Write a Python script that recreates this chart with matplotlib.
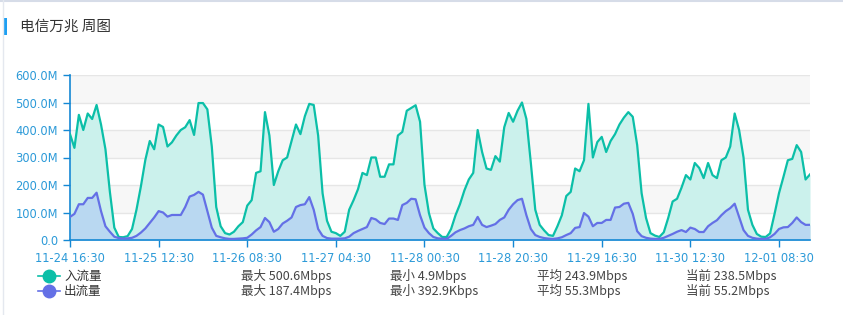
import matplotlib
matplotlib.use('Agg')
import matplotlib.pyplot as plt
import matplotlib.dates as mdates
from matplotlib.lines import Line2D
from matplotlib.patches import Rectangle
import pandas as pd

# 数据（每小时一个点，单位 Mbps）
start_time = '2023-11-24 16:30'
in_flow = [385, 335, 455, 400, 460, 440, 491, 420, 330, 175, 45, 11, 10, 14, 40, 110, 195, 291, 360, 330,
           420, 411, 340, 355, 380, 400, 410, 436, 382, 498, 498, 475, 340, 120, 50, 25, 20, 30, 50, 65,
           125, 145, 244, 250, 465, 380, 200, 250, 290, 300, 360, 420, 385, 450, 495, 491, 380, 170, 70, 30,
           25, 15, 30, 110, 145, 185, 244, 236, 300, 300, 230, 230, 275, 275, 380, 393, 470, 480, 490, 430,
           200, 98, 42, 25, 11, 11, 40, 90, 130, 180, 220, 244, 400, 320, 260, 255, 305, 285, 410, 462,
           430, 470, 500, 440, 280, 110, 55, 35, 18, 15, 50, 90, 160, 175, 260, 250, 290, 495, 300, 356,
           375, 320, 360, 385, 420, 445, 465, 448, 345, 170, 80, 25, 16, 11, 28, 80, 140, 150, 190, 236,
           220, 280, 262, 225, 280, 236, 225, 290, 300, 340, 460, 400, 300, 110, 55, 22, 12, 11, 24, 95,
           170, 229, 290, 295, 345, 320, 220, 238.5]
out_flow = [84, 95, 130, 130, 153, 153, 172, 105, 50, 30, 12, 7, 5, 6, 8, 15, 27, 42, 62, 82,
            105, 100, 85, 91, 91, 91, 120, 158, 164, 175, 165, 105, 45, 15, 10, 6, 4, 4, 5, 6,
            8, 20, 35, 47, 80, 65, 30, 40, 60, 70, 82, 120, 127, 130, 156, 110, 40, 15, 7, 5,
            5, 5, 6, 12, 25, 33, 40, 47, 80, 75, 62, 58, 78, 78, 73, 127, 135, 150, 148, 90,
            45, 25, 11, 6, 5, 4, 15, 28, 36, 42, 50, 55, 84, 55, 47, 52, 58, 73, 82, 110,
            130, 145, 150, 90, 40, 18, 11, 7, 5, 4, 6, 10, 18, 25, 44, 47, 98, 85, 50, 62,
            62, 73, 73, 118, 120, 132, 135, 95, 32, 14, 8, 5, 4, 4, 8, 15, 22, 30, 36, 29,
            45, 40, 29, 29, 50, 62, 72, 90, 105, 116, 132, 84, 36, 15, 8, 5, 4, 4, 10, 22,
            40, 46, 47, 62, 82, 65, 55, 55.2]
y_ticks = [0, 100, 200, 300, 400, 500, 600]
y_labels = ['0.0', '100.0M', '200.0M', '300.0M', '400.0M', '500.0M', '600.0M']
series_names = ['入流量', '出流量']
stat_max = ['最大 500.6Mbps', '最大 187.4Mbps']
stat_min = ['最小 4.9Mbps', '最小 392.9Kbps']
stat_avg = ['平均 243.9Mbps', '平均 55.3Mbps']
stat_cur = ['当前 238.5Mbps', '当前 55.2Mbps']

times = pd.date_range(start_time, periods=len(in_flow), freq='h')

plt.rcParams['font.family'] = ['Noto Sans CJK SC', 'DejaVu Sans']

W, H = 843, 315
fig = plt.figure(figsize=(W / 100, H / 100), dpi=100)

# 面板边框和标题
fig.add_artist(Line2D([0, 1], [1 - 1 / H, 1 - 1 / H], color='#d6dce8', lw=1.5))
fig.add_artist(Line2D([3 / W, 3 / W], [0, 1], color='#e4e8ef', lw=1))
fig.add_artist(Rectangle((4 / W, 1 - 35 / H), 3 / W, 17 / H, color='#1e9ff2', lw=0))
fig.text(20 / W, 1 - 27 / H, '电信万兆 周图', fontsize=10.5, color='#333333', va='center')

ax = fig.add_axes([70 / W, 75 / H, 740 / W, 165 / H])

# 分隔区域背景
for i in range(len(y_ticks) - 1):
    if i % 2 == 1:
        ax.axhspan(y_ticks[i], y_ticks[i + 1], color='#f7f7f7', lw=0, zorder=0)
for t in y_ticks[1:]:
    ax.axhline(t, color='#e6e6e6', lw=1, zorder=0.5)

in_color = '#0bbfa8'
out_color = '#6470e6'
ax.fill_between(times, in_flow, color='#cbf1ec', lw=0, zorder=1)
ax.fill_between(times, out_flow, color='#b9d8f1', lw=0, zorder=2)
ax.plot(times, in_flow, color=in_color, lw=1.6, zorder=3)
ax.plot(times, out_flow, color=out_color, lw=1.6, zorder=4)

ax.set_xlim(times[0], times[-1])
ax.set_ylim(0, 600)
ax.set_yticks(y_ticks)
ax.set_yticklabels(y_labels)
ax.set_xticks(times[::20])
ax.xaxis.set_major_formatter(mdates.DateFormatter('%m-%d %H:%M'))

axis_color = '#1488d4'
for side in ['top', 'right']:
    ax.spines[side].set_visible(False)
for side in ['left', 'bottom']:
    ax.spines[side].set_color(axis_color)
    ax.spines[side].set_linewidth(1.2)
ax.tick_params(colors=axis_color, length=5, width=1, labelcolor='#2c9ad8', labelsize=8.3)
for lab in ax.get_xticklabels() + ax.get_yticklabels():
    lab.set_fontfamily('DejaVu Sans')

# 图例与统计
colors = [in_color, out_color]
rows = [276, 291]
for k in range(2):
    yy = 1 - rows[k] / H
    fig.add_artist(Line2D([38 / W, 60 / W], [yy, yy], color=colors[k], lw=1.2))
    fig.add_artist(Line2D([49 / W], [yy], color=colors[k], marker='o', ms=9, lw=0))
    fig.text(64 / W, yy, series_names[k], fontsize=9, color='#333333', va='center')
    fig.text(241 / W, yy, stat_max[k], fontsize=9, color='#444444', va='center')
    fig.text(390 / W, yy, stat_min[k], fontsize=9, color='#444444', va='center')
    fig.text(537 / W, yy, stat_avg[k], fontsize=9, color='#444444', va='center')
    fig.text(686 / W, yy, stat_cur[k], fontsize=9, color='#444444', va='center')

fig.savefig('out.png', dpi=100)
